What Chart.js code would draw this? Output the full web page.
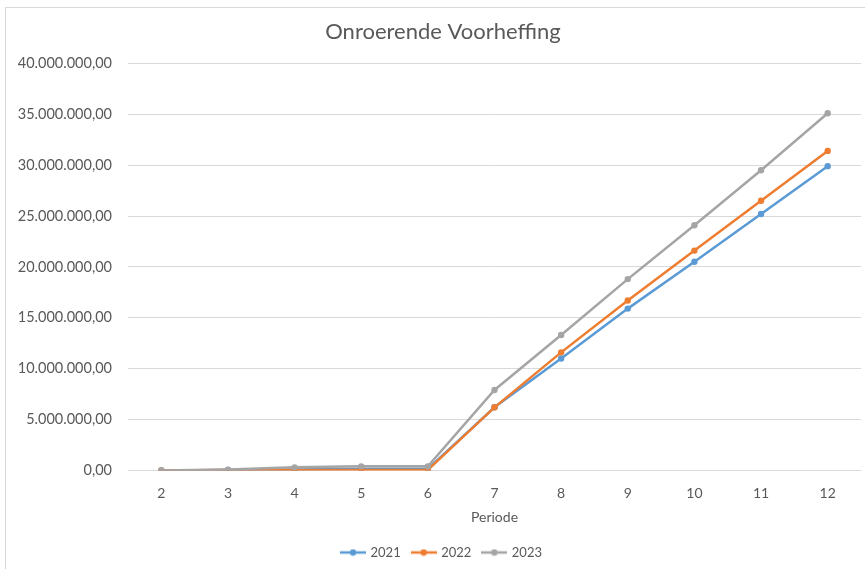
<!DOCTYPE html>
<html>
<head>
<meta charset="utf-8">
<script src="https://cdn.jsdelivr.net/npm/chart.js@4"></script>
<style>
  html, body { margin: 0; padding: 0; background: #fff; }
  #wrap { position: relative; width: 865px; height: 569px; }
  #rand { position: absolute; left: 5px; top: 7px; width: 870px; height: 570px; border: 1px solid #D9D9D9; box-sizing: border-box; pointer-events: none; }
</style>
</head>
<body>
<div id="wrap">
  <canvas id="grafiek" width="865" height="569"></canvas>
  <div id="rand"></div>
</div>
<script>
// gegevens
const periodes = ['2', '3', '4', '5', '6', '7', '8', '9', '10', '11', '12'];
const jaren = ['2021', '2022', '2023'];
const waarden2021 = [0, 50000, 100000, 150000, 150000, 6200000, 11000000, 15900000, 20500000, 25200000, 29900000];
const waarden2022 = [0, 30000, 50000, 50000, 50000, 6200000, 11600000, 16700000, 21600000, 26500000, 31400000];
const waarden2023 = [0, 80000, 300000, 400000, 400000, 7900000, 13300000, 18800000, 24100000, 29500000, 35100000];
const kleuren = ['#5B9BD5', '#ED7D31', '#A5A5A5'];

const tekstKleur = '#595959';
const lettertype = 'Lato, "Liberation Sans", sans-serif';

// legenda-symbool: lijntje met bolletje, zoals in Excel
function legendaSymbool(kleur) {
  const c = document.createElement('canvas');
  c.width = 26; c.height = 8;
  const ctx = c.getContext('2d');
  ctx.strokeStyle = kleur;
  ctx.lineWidth = 2.5;
  ctx.beginPath();
  ctx.moveTo(0, 4); ctx.lineTo(26, 4);
  ctx.stroke();
  ctx.fillStyle = kleur;
  ctx.beginPath();
  ctx.arc(13, 4, 3.2, 0, Math.PI * 2);
  ctx.fill();
  return c;
}

const nf = new Intl.NumberFormat('nl-BE', { minimumFractionDigits: 2, maximumFractionDigits: 2 });

function reeks(label, data, kleur, volgorde) {
  return {
    label: label,
    data: data,
    borderColor: kleur,
    backgroundColor: kleur,
    borderWidth: 2.5,
    pointRadius: 3.2,
    pointHoverRadius: 4,
    pointBorderWidth: 0,
    tension: 0,
    order: volgorde
  };
}

// titel en legenda iets naar rechts, zoals in Excel (gecentreerd op het hele kader)
const verschuif = {
  id: 'verschuif',
  afterLayout(chart) {
    if (chart.titleBlock) { chart.titleBlock.left += 9; chart.titleBlock.right += 9; }
    if (chart.legend) { chart.legend.left += 8; chart.legend.right += 8; }
  }
};

const grafiek = new Chart(document.getElementById('grafiek'), {
  type: 'line',
  data: {
    labels: periodes,
    datasets: [
      reeks(jaren[0], waarden2021, kleuren[0], 2),
      reeks(jaren[1], waarden2022, kleuren[1], 1),
      reeks(jaren[2], waarden2023, kleuren[2], 0)
    ]
  },
  plugins: [verschuif],
  options: {
    responsive: false,
    animation: false,
    layout: { padding: { left: 5, right: 2, top: 0, bottom: 0 } },
    plugins: {
      title: {
        display: true,
        text: 'Onroerende Voorheffing',
        color: tekstKleur,
        font: { family: lettertype, size: 22, weight: 'normal' },
        padding: { top: 19, bottom: 18 }
      },
      legend: {
        position: 'bottom',
        labels: {
          color: tekstKleur,
          font: { family: lettertype, size: 13 },
          usePointStyle: true,
          pointStyleWidth: 22,
          padding: 12,
          generateLabels: function (chart) {
            return chart.data.datasets.map(function (ds, i) {
              return {
                text: ds.label,
                fillStyle: ds.borderColor,
                strokeStyle: ds.borderColor,
                fontColor: tekstKleur,
                lineWidth: 0,
                pointStyle: legendaSymbool(ds.borderColor),
                datasetIndex: i,
                hidden: false
              };
            });
          }
        }
      },
      tooltip: { enabled: false }
    },
    scales: {
      x: {
        offset: true,
        grid: { display: false, drawTicks: false },
        border: { display: false },
        ticks: { color: tekstKleur, font: { family: lettertype, size: 14 }, padding: 15 },
        title: {
          display: true,
          text: 'Periode',
          color: tekstKleur,
          font: { family: lettertype, size: 14 },
          padding: { top: -8, bottom: 8 }
        }
      },
      y: {
        min: 0,
        max: 40000000,
        grid: { color: '#D9D9D9', drawTicks: false, lineWidth: 1 },
        border: { display: false },
        ticks: {
          stepSize: 5000000,
          color: tekstKleur,
          font: { family: lettertype, size: 14.5 },
          padding: 16,
          callback: function (v) { return nf.format(v); }
        },
        afterFit: function (scale) { scale.width = 123; }
      }
    }
  }
});
</script>
</body>
</html>
